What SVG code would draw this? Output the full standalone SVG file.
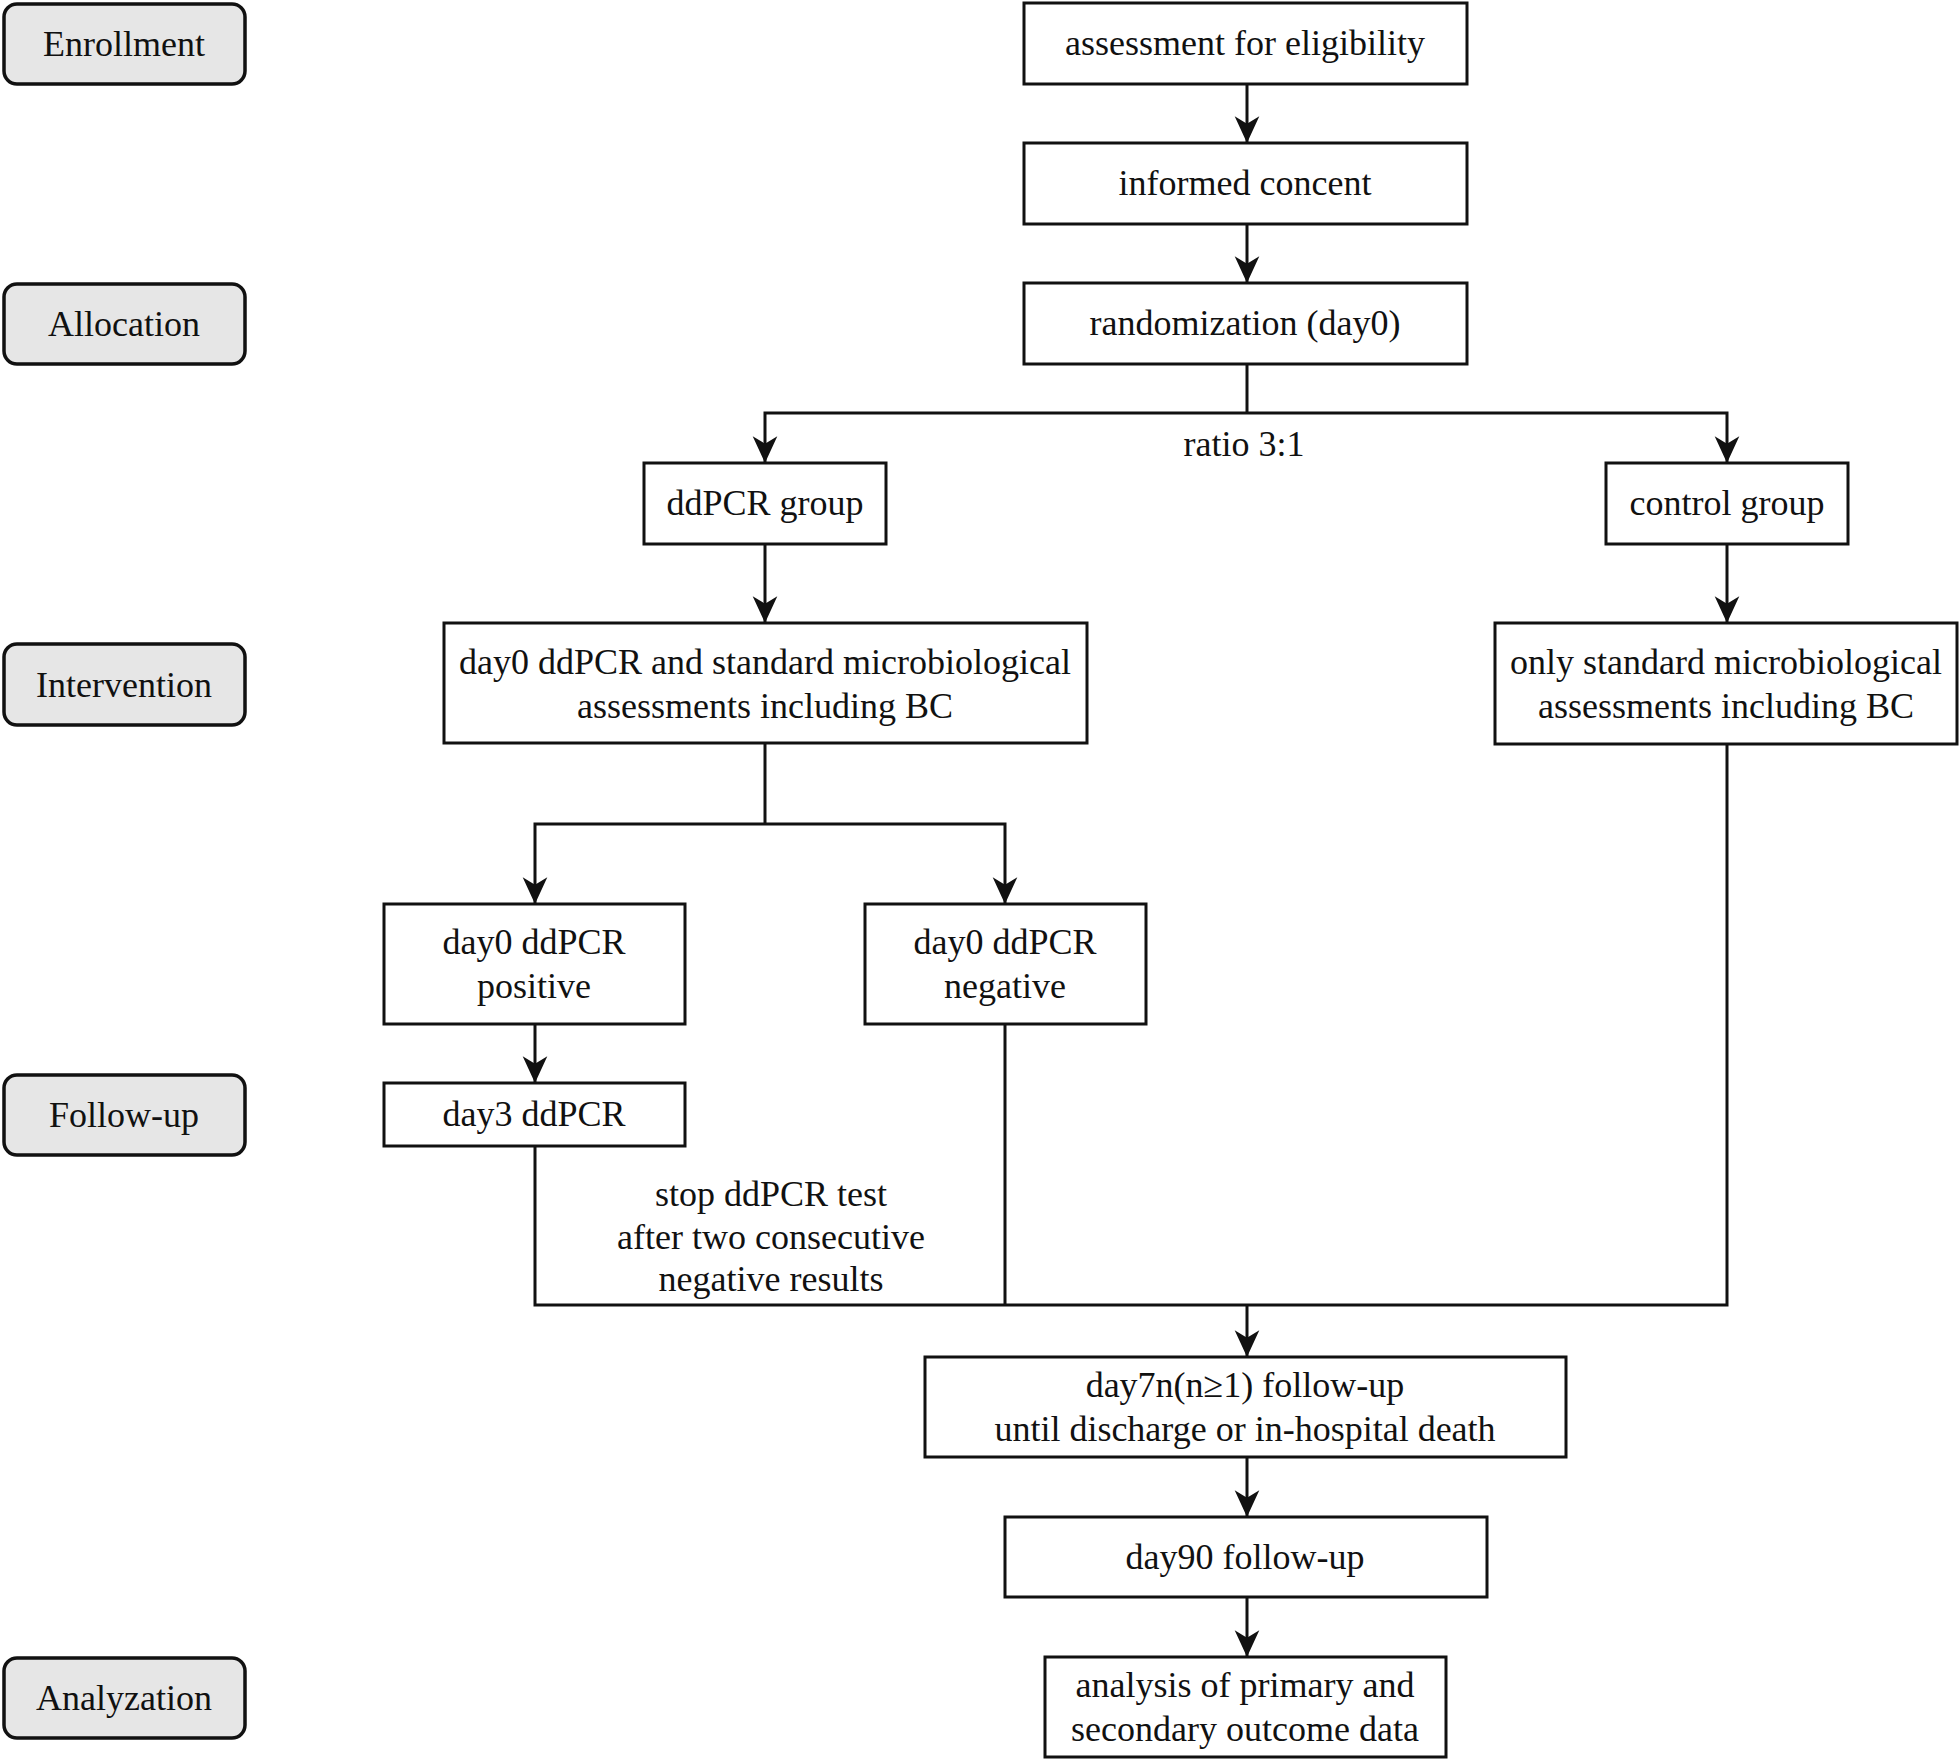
<svg xmlns="http://www.w3.org/2000/svg" width="1960" height="1761" viewBox="0 0 1960 1761">
<style>
text{font-family:"Liberation Serif","Times New Roman",serif;font-size:36px;fill:#111;text-anchor:middle}
.box{fill:#fff;stroke:#111;stroke-width:3}
.lab{fill:#e6e6e6;stroke:#111;stroke-width:3.5}
.c{fill:none;stroke:#111;stroke-width:3}
</style>
<defs>
<marker id="ah" markerUnits="userSpaceOnUse" markerWidth="30" markerHeight="30" viewBox="-26 -14 28 28" refX="0" refY="0" orient="auto">
<path d="M0,0 L-25,-11.5 L-18,0 L-25,11.5 Z" fill="#111"/>
</marker>
</defs>
<g id="labels">
<g id="lab-enrollment"><rect class="lab" x="4" y="4" width="241" height="80" rx="13"/><text x="124" y="56">Enrollment</text></g>
<g id="lab-allocation"><rect class="lab" x="4" y="284" width="241" height="80" rx="13"/><text x="124" y="336">Allocation</text></g>
<g id="lab-intervention"><rect class="lab" x="4" y="644" width="241" height="81" rx="13"/><text x="124" y="697">Intervention</text></g>
<g id="lab-followup"><rect class="lab" x="4" y="1075" width="241" height="80" rx="13"/><text x="124" y="1127">Follow-up</text></g>
<g id="lab-analyzation"><rect class="lab" x="4" y="1658" width="241" height="80" rx="13"/><text x="124" y="1710">Analyzation</text></g>
</g>
<g id="connectors">
<line class="c" x1="1247" y1="84" x2="1247" y2="143" marker-end="url(#ah)"/>
<line class="c" x1="1247" y1="224" x2="1247" y2="283" marker-end="url(#ah)"/>
<polyline class="c" points="1247,364 1247,413"/>
<polyline class="c" points="1247,413 765,413 765,463" marker-end="url(#ah)"/>
<polyline class="c" points="1247,413 1727,413 1727,463" marker-end="url(#ah)"/>
<line class="c" x1="765" y1="544" x2="765" y2="623" marker-end="url(#ah)"/>
<line class="c" x1="1727" y1="544" x2="1727" y2="623" marker-end="url(#ah)"/>
<polyline class="c" points="765,743 765,824"/>
<polyline class="c" points="765,824 535,824 535,904" marker-end="url(#ah)"/>
<polyline class="c" points="765,824 1005,824 1005,904" marker-end="url(#ah)"/>
<line class="c" x1="535" y1="1024" x2="535" y2="1083" marker-end="url(#ah)"/>
<polyline class="c" points="535,1146 535,1305 1727,1305 1727,744"/>
<line class="c" x1="1005" y1="1024" x2="1005" y2="1305"/>
<line class="c" x1="1247" y1="1305" x2="1247" y2="1357" marker-end="url(#ah)"/>
<line class="c" x1="1247" y1="1457" x2="1247" y2="1517" marker-end="url(#ah)"/>
<line class="c" x1="1247" y1="1597" x2="1247" y2="1657" marker-end="url(#ah)"/>
<text x="1244" y="456">ratio 3:1</text>
<text x="771" y="1206">stop ddPCR test</text>
<text x="771" y="1249">after two consecutive</text>
<text x="771" y="1291">negative results</text>
</g>
<g id="n-assess"><rect class="box" x="1024" y="3" width="443" height="81"/><text x="1245" y="55">assessment for eligibility</text></g>
<g id="n-consent"><rect class="box" x="1024" y="143" width="443" height="81"/><text x="1245" y="195">informed concent</text></g>
<g id="n-random"><rect class="box" x="1024" y="283" width="443" height="81"/><text x="1245" y="335">randomization (day0)</text></g>
<g id="n-ddpcr"><rect class="box" x="644" y="463" width="242" height="81"/><text x="765" y="515">ddPCR group</text></g>
<g id="n-control"><rect class="box" x="1606" y="463" width="242" height="81"/><text x="1727" y="515">control group</text></g>
<g id="n-ddpcr-std"><rect class="box" x="444" y="623" width="643" height="120"/><text x="765" y="674">day0 ddPCR and standard microbiological</text><text x="765" y="718">assessments including BC</text></g>
<g id="n-std-only"><rect class="box" x="1495" y="623" width="462" height="121"/><text x="1726" y="674">only standard microbiological</text><text x="1726" y="718">assessments including BC</text></g>
<g id="n-pos"><rect class="box" x="384" y="904" width="301" height="120"/><text x="534" y="954">day0 ddPCR</text><text x="534" y="998">positive</text></g>
<g id="n-neg"><rect class="box" x="865" y="904" width="281" height="120"/><text x="1005" y="954">day0 ddPCR</text><text x="1005" y="998">negative</text></g>
<g id="n-day3"><rect class="box" x="384" y="1083" width="301" height="63"/><text x="534" y="1126">day3 ddPCR</text></g>
<g id="n-day7"><rect class="box" x="925" y="1357" width="641" height="100"/><text x="1245" y="1397">day7n(n≥1) follow-up</text><text x="1245" y="1441">until discharge or in-hospital death</text></g>
<g id="n-day90"><rect class="box" x="1005" y="1517" width="482" height="80"/><text x="1245" y="1569">day90 follow-up</text></g>
<g id="n-analysis"><rect class="box" x="1045" y="1657" width="401" height="100"/><text x="1245" y="1697">analysis of primary and</text><text x="1245" y="1741">secondary outcome data</text></g>
</svg>
